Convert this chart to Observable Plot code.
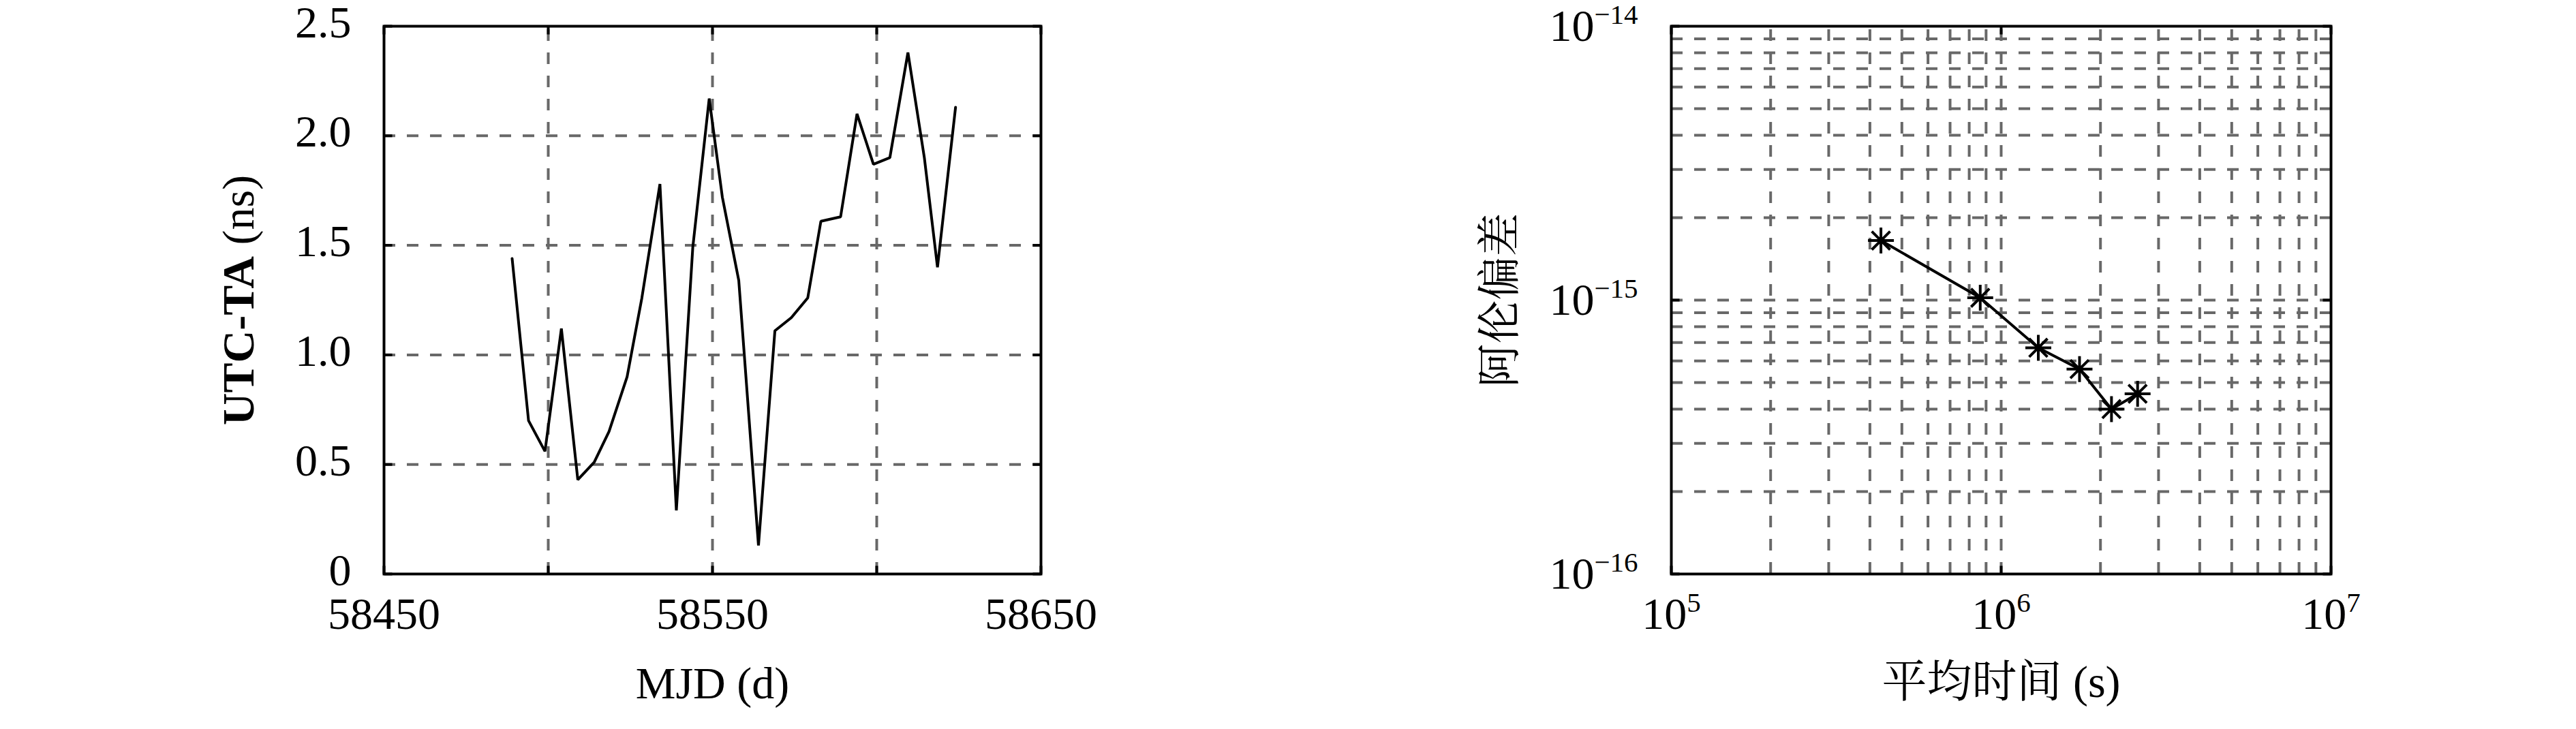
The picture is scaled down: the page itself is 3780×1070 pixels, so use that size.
<!DOCTYPE html>
<html>
<head>
<meta charset="utf-8">
<script src="https://cdn.jsdelivr.net/npm/d3@7"></script>
<script src="https://cdn.jsdelivr.net/npm/@observablehq/plot@0.6"></script>
<style>
html, body { margin: 0; padding: 0; background: #fff; }
#wrap { display: flex; width: 3780px; height: 1070px; background: #fff; }
</style>
</head>
<body>
<div id="wrap"></div>
<script>
// ---------- Left panel data: UTC-TA (ns) vs MJD ----------
const mjd = [58489, 58494, 58499, 58504, 58509, 58514, 58518.5, 58524, 58528.5, 58534,
             58539, 58544, 58549, 58553, 58558, 58564, 58569, 58574, 58579, 58583,
             58589, 58594, 58599, 58604, 58609.5, 58614.5, 58618.5, 58624];
const utcTa = [1.44, 0.70, 0.56, 1.12, 0.43, 0.51, 0.65, 0.90, 1.26, 1.78,
               0.29, 1.49, 2.17, 1.72, 1.34, 0.13, 1.11, 1.17, 1.26, 1.61,
               1.63, 2.10, 1.87, 1.90, 2.38, 1.90, 1.40, 2.13];
const xTicksL = [58450, 58500, 58550, 58600, 58650];
const xLabelValsL = [58450, 58550, 58650];
const xLabelsL = ["58450", "58550", "58650"];
const yTicksL = [0, 0.5, 1, 1.5, 2, 2.5];
const yLabelsL = ["0", "0.5", "1.0", "1.5", "2.0", "2.5"];
const xGridL = [58500, 58550, 58600];
const yGridL = [0.5, 1, 1.5, 2];
const xTitleL = "MJD (d)";
const yTitleL = "UTC-TA (ns)";

// ---------- Right panel data: Allan deviation vs averaging time ----------
const tau = [432000, 864000, 1296000, 1728000, 2160000, 2592000];
const adev = [1.65e-15, 1.02e-15, 6.7e-16, 5.6e-16, 4.0e-16, 4.55e-16];
const xTicksR = [1e5, 1e6, 1e7];
const xLabelsR = ["10^{5}", "10^{6}", "10^{7}"];
const yTicksR = [1e-16, 1e-15, 1e-14];
const yLabelsR = ["10^{−16}", "10^{−15}", "10^{−14}"];
const xGridR = [2e5, 3e5, 4e5, 5e5, 6e5, 7e5, 8e5, 9e5, 1e6,
                2e6, 3e6, 4e6, 5e6, 6e6, 7e6, 8e6, 9e6];
const yGridR = [2e-16, 3e-16, 4e-16, 5e-16, 6e-16, 7e-16, 8e-16, 9e-16, 1e-15,
                2e-15, 3e-15, 4e-15, 5e-15, 6e-15, 7e-15, 8e-15, 9e-15];
const xTitleR = "平均时间 (s)";
const yTitleR = "阿伦偏差";

// ---------- styling ----------
const FONT = "'Liberation Serif', 'Noto Serif CJK SC', 'Noto Sans CJK SC', serif";
const FS = 66;
const GRID = {stroke: "#686868", strokeWidth: 4, strokeDasharray: "17,17"};
const TICK = {stroke: "black", strokeWidth: 4, fill: "none", r: 12};

const tickSym = (dx, dy) => ({
  draw(ctx, size) { const l = Math.sqrt(size / Math.PI); ctx.moveTo(0, 0); ctx.lineTo(dx * l, dy * l); }
});
const asterisk = {
  draw(ctx, size) {
    const r = Math.sqrt(size / Math.PI), d = r * Math.SQRT1_2;
    ctx.moveTo(-r, 0); ctx.lineTo(r, 0);
    ctx.moveTo(0, -r); ctx.lineTo(0, r);
    ctx.moveTo(-d, -d); ctx.lineTo(d, d);
    ctx.moveTo(-d, d); ctx.lineTo(d, -d);
  }
};

function tickMarks(xt, yt) {
  return [
    Plot.dot(xt, {x: d => d, frameAnchor: "bottom", symbol: tickSym(0, -1), ...TICK}),
    Plot.dot(xt, {x: d => d, frameAnchor: "top", symbol: tickSym(0, 1), ...TICK}),
    Plot.dot(yt, {y: d => d, frameAnchor: "left", symbol: tickSym(1, 0), ...TICK}),
    Plot.dot(yt, {y: d => d, frameAnchor: "right", symbol: tickSym(-1, 0), ...TICK})
  ];
}

function enhance(svg) {
  const ns = "http://www.w3.org/2000/svg";
  svg.querySelectorAll("text").forEach(t => {
    const s = t.textContent;
    const m = s.match(/^(.*)\^\{(.*)\}$/);
    if (m) {
      t.textContent = "";
      const a = document.createElementNS(ns, "tspan"); a.textContent = m[1];
      const b = document.createElementNS(ns, "tspan"); b.textContent = m[2];
      b.setAttribute("dy", "-25"); b.setAttribute("font-size", "41");
      t.append(a, b);
    } else if (s === yTitleL) {
      t.textContent = "";
      const a = document.createElementNS(ns, "tspan"); a.textContent = "UTC-TA";
      a.setAttribute("font-weight", "bold");
      const b = document.createElementNS(ns, "tspan"); b.textContent = " (ns)";
      t.append(a, b);
    }
  });
  return svg;
}

const common = {
  width: 1890, height: 1070, marginTop: 38, marginBottom: 228,
  style: {fontFamily: FONT, fontSize: FS + "px", background: "white", overflow: "visible", color: "black"}
};

// ---------- Left chart ----------
const left = Plot.plot({
  ...common,
  marginLeft: 563, marginRight: 363,
  x: {domain: [58450, 58650], axis: null},
  y: {domain: [0, 2.5], axis: null},
  marks: [
    Plot.ruleY(yGridL, {y: d => d, ...GRID}),
    Plot.ruleX(xGridL, {x: d => d, y1: () => 0, y2: () => 2.5, ...GRID}),
    Plot.line(mjd, {x: mjd, y: utcTa, stroke: "black", strokeWidth: 4, strokeLinejoin: "miter"}),
    ...tickMarks(xTicksL, yTicksL),
    Plot.text(yTicksL, {y: d => d, text: yLabelsL, frameAnchor: "left", textAnchor: "end", dx: -48, dy: -5, fontSize: FS}),
    Plot.text(xLabelValsL, {x: d => d, text: xLabelsL, frameAnchor: "bottom", textAnchor: "middle", dy: 80, fontSize: FS}),
    Plot.text([xTitleL], {text: d => d, frameAnchor: "bottom", textAnchor: "middle", dy: 182, fontSize: FS}),
    Plot.text([yTitleL], {text: d => d, frameAnchor: "left", textAnchor: "middle", dx: -213, rotate: -90, fontSize: FS}),
    Plot.frame({stroke: "black", strokeWidth: 4})
  ]
});

// ---------- Right chart ----------
const right = Plot.plot({
  ...common,
  marginLeft: 562, marginRight: 360,
  x: {type: "log", domain: [1e5, 1e7], axis: null},
  y: {type: "log", domain: [1e-16, 1e-14], axis: null},
  marks: [
    Plot.ruleY(yGridR, {y: d => d, ...GRID}),
    Plot.ruleX(xGridR, {x: d => d, y1: () => 1e-16, y2: () => 1e-14, ...GRID}),
    Plot.line(tau, {x: tau, y: adev, stroke: "black", strokeWidth: 4}),
    Plot.dot(tau, {x: tau, y: adev, symbol: asterisk, r: 19, stroke: "black", strokeWidth: 4, fill: "none"}),
    ...tickMarks(xTicksR, yTicksR),
    Plot.text(yTicksR, {y: d => d, text: yLabelsR, frameAnchor: "left", textAnchor: "end", dx: -49, dy: 0, fontSize: FS}),
    Plot.text(xTicksR, {x: d => d, text: xLabelsR, frameAnchor: "bottom", textAnchor: "middle", dy: 80, fontSize: FS}),
    Plot.text([xTitleR], {text: d => d, frameAnchor: "bottom", textAnchor: "middle", dy: 180, fontSize: FS}),
    Plot.text([yTitleR], {text: d => d, frameAnchor: "left", textAnchor: "middle", dx: -251, rotate: -90, fontSize: 64}),
    Plot.frame({stroke: "black", strokeWidth: 4})
  ]
});

const wrap = document.getElementById("wrap");
wrap.append(enhance(left), enhance(right));
</script>
</body>
</html>
